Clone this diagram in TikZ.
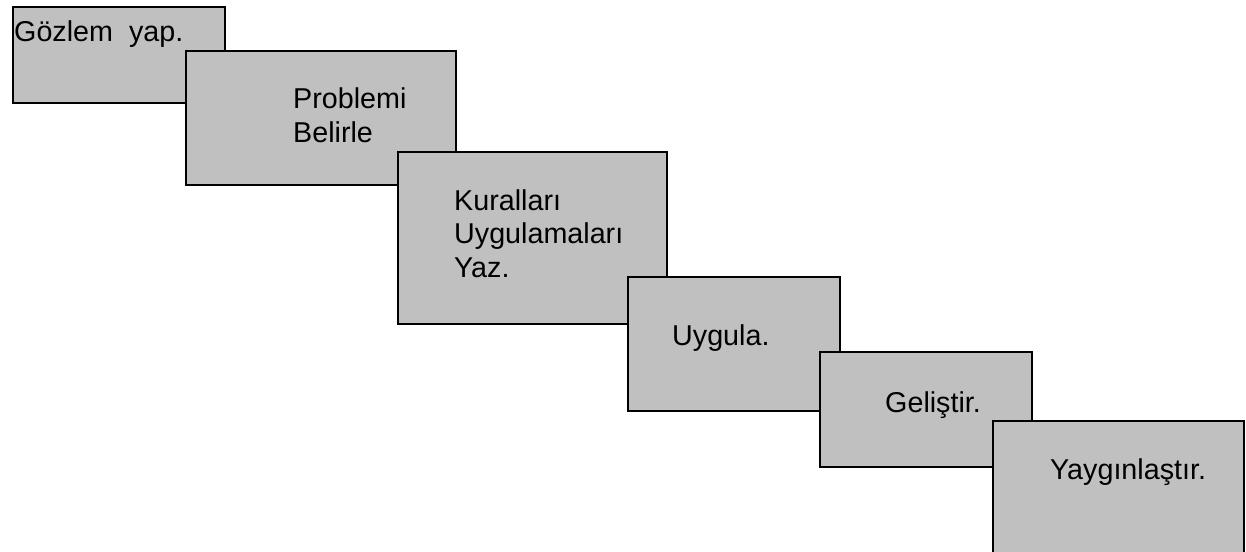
\documentclass[tikz,border=0pt]{standalone}
\usepackage{fontspec}
\setmainfont{Liberation Sans}
\definecolor{boxgray}{HTML}{C0C0C0}
\tikzset{
  stepbox/.style={draw=black, line width=1.7pt, fill=boxgray, rectangle, inner sep=0pt, anchor=north west},
  steptext/.style={inner sep=0pt, anchor=base west, align=left, font=\fontsize{28.7pt}{33.5pt}\selectfont}
}
\begin{document}
\begin{tikzpicture}[x=1pt,y=-1pt]
\useasboundingbox (0,0) rectangle (1246,551);
\clip (0,0) rectangle (1246,551);
\node[stepbox, minimum width=212pt, minimum height=96pt] (b1) at (12,6) {};
\node[steptext] (t1) at (14,41.7) {Gözlem\ \ yap.};
\node[stepbox, minimum width=270pt, minimum height=134pt] (b2) at (185,50) {};
\node[steptext] (t2) at (293,142.3) {Problemi\\Belirle};
\node[stepbox, minimum width=269pt, minimum height=172pt] (b3) at (397,151) {};
\node[steptext] (t3) at (454,277) {Kuralları\\Uygulamaları\\Yaz.};
\node[stepbox, minimum width=212pt, minimum height=134pt] (b4) at (627,276) {};
\node[steptext] (t4) at (672,345) {Uygula.};
\node[stepbox, minimum width=212pt, minimum height=115pt] (b5) at (819,351) {};
\node[steptext] (t5) at (885,412.7) {Geliştir.};
\node[stepbox, minimum width=251pt, minimum height=200pt] (b6) at (992,420) {};
\node[steptext] (t6) at (1050,479) {Yaygınlaştır.};
\end{tikzpicture}
\end{document}
